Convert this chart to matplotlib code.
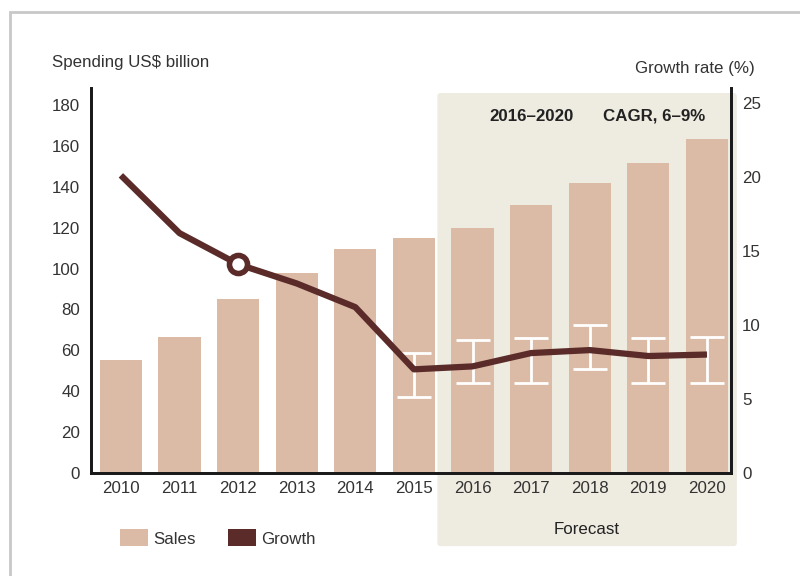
import matplotlib.pyplot as plt
from matplotlib.patches import FancyBboxPatch, Patch, Rectangle
import matplotlib.transforms as mtrans

plt.rcParams['font.family'] = ['Liberation Sans', 'DejaVu Sans']

years = ['2010', '2011', '2012', '2013', '2014', '2015', '2016', '2017', '2018', '2019', '2020']
sales = [55.3, 66.5, 85, 98, 109.6, 115, 120, 131, 142, 151.6, 163.4]
growth = [20.1, 16.2, 14.1, 12.8, 11.2, 7.0, 7.2, 8.1, 8.3, 7.9, 8.0]
err_years = ['2015', '2016', '2017', '2018', '2019', '2020']
err_low = [5.1, 6.1, 6.1, 7.0, 6.1, 6.1]
err_high = [8.1, 9.0, 9.1, 10.0, 9.1, 9.2]

BAR = '#dbbba6'
LINE = '#5a2b29'
SHADE = '#eeebe0'
TXT = '#333333'
FS = 12.2

fig = plt.figure(figsize=(8, 5.76), dpi=100)
ax = fig.add_axes([91/800, 1-473/576, 640/800, 385/576])
ax2 = ax.twinx()

x = list(range(len(years)))

# forecast band (x in data, y in axes fraction)
tr = mtrans.blended_transform_factory(ax.transData, ax.transAxes)
band = FancyBboxPatch((5.4, -0.19), 5.11, 1.177, boxstyle='round,pad=0,rounding_size=0.06',
                      transform=tr, facecolor=SHADE, edgecolor='none', clip_on=False, zorder=0,
                      mutation_aspect=0.15)
ax.add_patch(band)

ax.bar(x, sales, width=0.72, color=BAR, zorder=2)
ax.set_xlim(-0.51, 10.41)
ax.set_ylim(0, 188.3)
ax.set_yticks(range(0, 181, 20))
ax.set_xticks(x)
ax.set_xticklabels(years)

ax2.set_ylim(0, 26)
ax2.set_yticks(range(0, 26, 5))
ax2.patch.set_visible(False)

ex = [years.index(y) for y in err_years]
mid = [(l + h) / 2 for l, h in zip(err_low, err_high)]
half = [(h - l) / 2 for l, h in zip(err_low, err_high)]
ax2.errorbar(ex, mid, yerr=half, fmt='none', ecolor='white', elinewidth=2,
             capsize=12.5, capthick=2, zorder=3)
ax2.plot(x, growth, color=LINE, lw=4.5, solid_capstyle='butt', zorder=4)
ax2.plot(x[2], growth[2], 'o', ms=13, mfc='white', mec=LINE, mew=4, zorder=5)

for a in (ax, ax2):
    a.spines['top'].set_visible(False)
    for s in ('left', 'right', 'bottom'):
        a.spines[s].set_linewidth(2)
        a.spines[s].set_color('#1a1a1a')
    a.tick_params(length=0, labelsize=FS, labelcolor=TXT, pad=8)
ax.tick_params(axis='x', pad=6)

fig.text(52/800, 1-62/576, 'Spending US$ billion', fontsize=FS, color=TXT, va='center')
fig.text(755/800, 1-68/576, 'Growth rate (%)', fontsize=FS, color=TXT, va='center', ha='right')
ax.text(7.0, 0.927, '2016\u20132020', transform=tr, fontsize=FS, fontweight='bold',
        color='#222222', ha='center', va='center')
ax.text(9.1, 0.927, 'CAGR, 6\u20139%', transform=tr, fontsize=FS, fontweight='bold',
        color='#222222', ha='center', va='center')
ax.text(7.95, -0.148, 'Forecast', transform=tr, fontsize=FS, color='#222222',
        ha='center', va='center')

handles = [Patch(facecolor=BAR, label='Sales'), Patch(facecolor=LINE, label='Growth')]
fig.legend(handles=handles, ncol=2, frameon=False, loc='center left',
           bbox_to_anchor=(105/800, 1-538/576), fontsize=FS, handlelength=1.65,
           handleheight=1.15, columnspacing=1.9, handletextpad=0.3, labelcolor=TXT)

# outer frame of the screenshot
fig.patches.append(Rectangle((10/800, -0.1), 1.2, 1-12/576+0.1, transform=fig.transFigure,
                             fill=False, edgecolor='#c8c8c8', lw=2, zorder=-1))

fig.savefig('out.png', dpi=100)
